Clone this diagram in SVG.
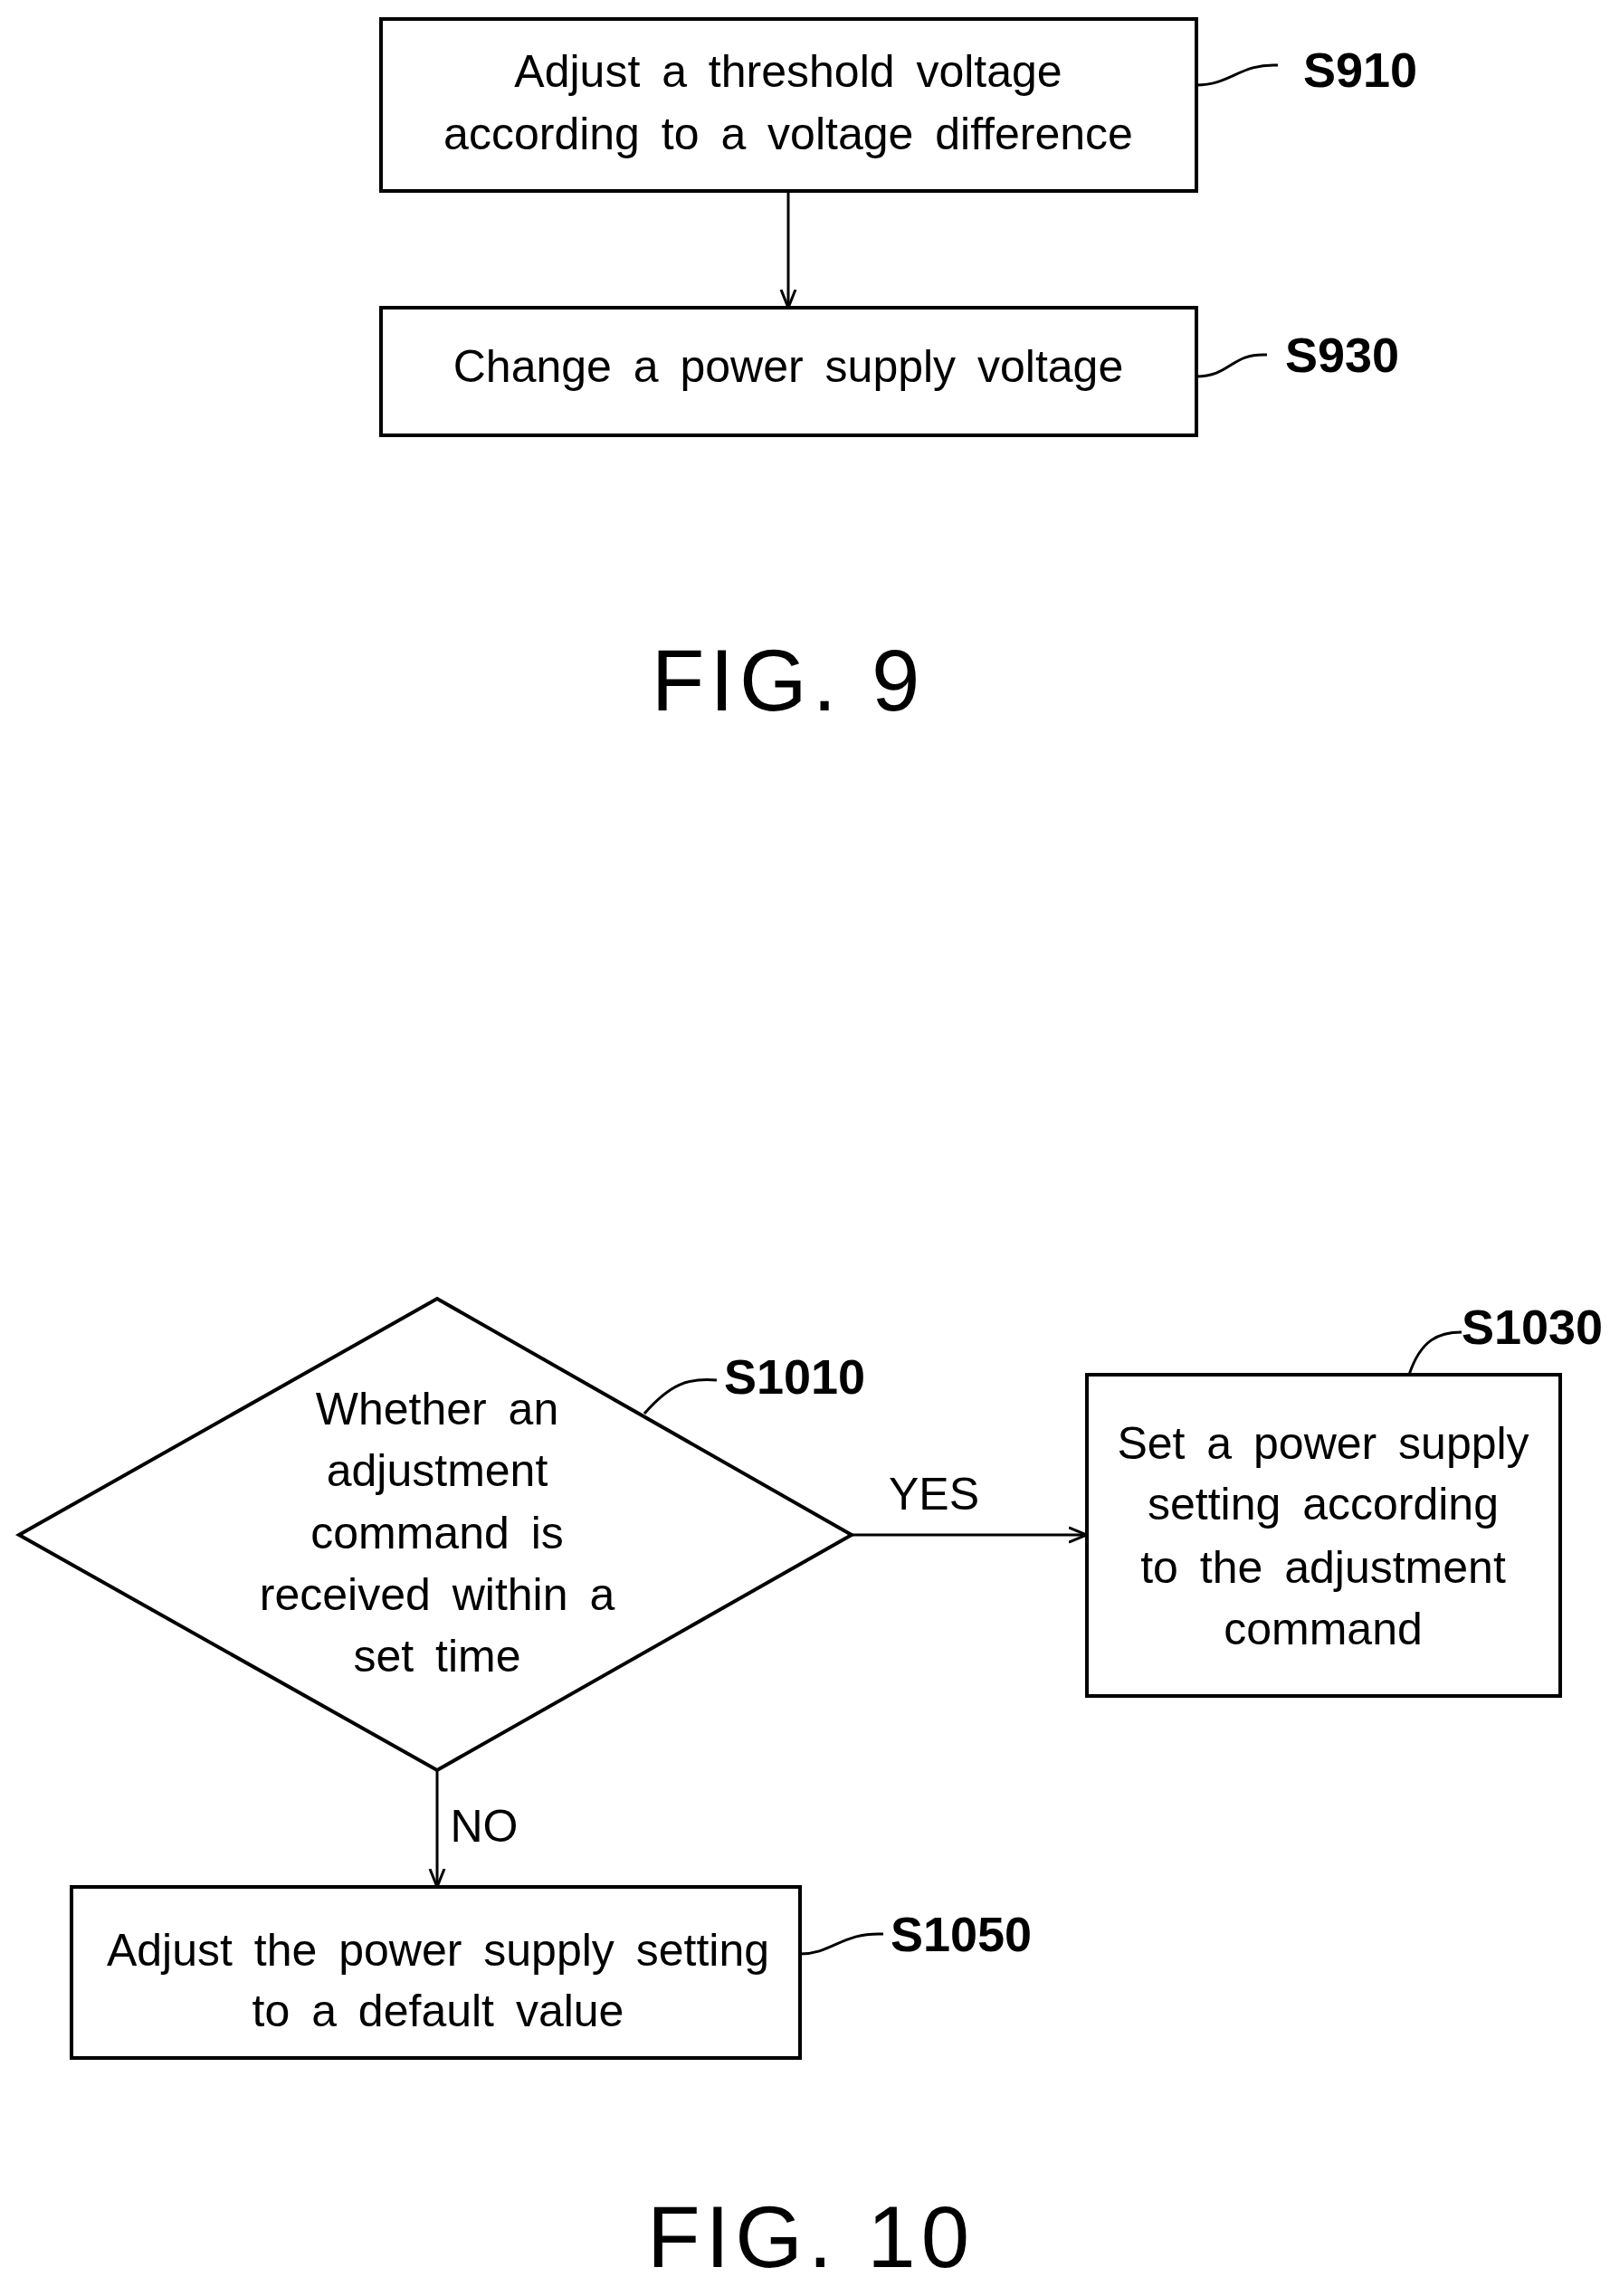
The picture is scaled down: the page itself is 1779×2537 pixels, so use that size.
<svg xmlns="http://www.w3.org/2000/svg" width="1779" height="2537" viewBox="0 0 1779 2537">
<defs>
<marker id="ah" viewBox="0 0 20 20" refX="20" refY="10" markerWidth="20" markerHeight="20" markerUnits="userSpaceOnUse" orient="auto"><path d="M0,2 L20,10 L0,18" fill="none" stroke="#000" stroke-width="3"/></marker>
</defs>
<style>
.b{fill:#fff;stroke:#000;stroke-width:4}
.l{fill:none;stroke:#000;stroke-width:3}
.t{font-family:"Liberation Sans",Arial,sans-serif;font-size:50px;text-anchor:middle;fill:#000;word-spacing:10px}
.s{font-family:"Liberation Sans",Arial,sans-serif;font-size:54px;font-weight:bold;fill:#000}
.f{font-family:"Liberation Sans",Arial,sans-serif;font-size:96px;text-anchor:middle;fill:#000;letter-spacing:6px}
</style>
<g id="S910"><rect class="b" x="421" y="21" width="901" height="190"/>
<text class="t" x="871" y="96">Adjust a threshold voltage</text>
<text class="t" x="871" y="165">according to a voltage difference</text>
<path class="l" d="M1322,94 C1360,94 1370,70 1412,72"/><text class="s" x="1440" y="96">S910</text></g>
<g id="S930"><rect class="b" x="421" y="340" width="901" height="141"/>
<text class="t" x="871" y="422">Change a power supply voltage</text>
<path class="l" d="M1322,416 C1360,416 1360,390 1400,392"/><text class="s" x="1420" y="411">S930</text></g>
<text class="f" x="871" y="785">FIG. 9</text>
<g id="S1010"><polygon class="b" points="21,1696 483,1435 941,1696 483,1956"/>
<text class="t" x="483" y="1574">Whether an</text>
<text class="t" x="483" y="1642">adjustment</text>
<text class="t" x="483" y="1711">command is</text>
<text class="t" x="483" y="1779">received within a</text>
<text class="t" x="483" y="1847">set time</text>
<path class="l" d="M712,1562 C740,1530 760,1522 792,1525"/><text class="s" x="800" y="1540">S1010</text></g>
<g id="S1030"><rect class="b" x="1201" y="1519" width="523" height="355"/>
<text class="t" x="1462" y="1612">Set a power supply</text>
<text class="t" x="1462" y="1679">setting according</text>
<text class="t" x="1462" y="1749">to the adjustment</text>
<text class="t" x="1462" y="1817">command</text>
<path class="l" d="M1557,1519 C1570,1480 1590,1472 1615,1472"/><text class="s" x="1615" y="1485">S1030</text></g>
<g id="S1050"><rect class="b" x="79" y="2085" width="805" height="189"/>
<text class="t" x="484" y="2172">Adjust the power supply setting</text>
<text class="t" x="484" y="2239">to a default value</text>
<path class="l" d="M884,2159 C920,2159 930,2135 976,2137"/><text class="s" x="984" y="2156">S1050</text></g>
<g id="connectors">
<line class="l" x1="871" y1="211" x2="871" y2="340" marker-end="url(#ah)"/>
<line class="l" x1="941" y1="1696" x2="1201" y2="1696" marker-end="url(#ah)"/>
<text class="t" x="1032" y="1668">YES</text>
<line class="l" x1="483" y1="1956" x2="483" y2="2085" marker-end="url(#ah)"/>
<text class="t" x="535" y="2035">NO</text>
</g>
<text class="f" x="896" y="2505">FIG. 10</text>
</svg>
